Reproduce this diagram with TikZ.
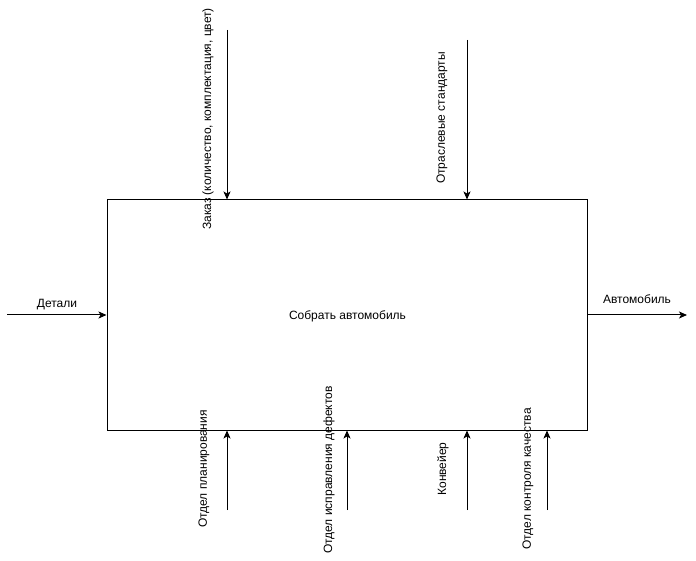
\documentclass[tikz,border=0pt]{standalone}
\usepackage{fontspec}
\setmainfont{Liberation Sans}
\usetikzlibrary{arrows.meta}
\begin{document}
\begin{tikzpicture}[x=1pt,y=-1pt,
  lbl/.style={font=\fontsize{12}{14}\selectfont, inner sep=0pt},
  vlbl/.style={lbl, rotate=90},
  arr/.style={line width=1pt, -{Stealth[length=8pt,width=7pt,inset=2pt]}},
  func/.style={draw, line width=1pt, minimum width=480pt, minimum height=230pt, inner sep=0pt, font=\fontsize{12}{14}\selectfont}]
\useasboundingbox (0,0) rectangle (696,561);
\node[func] (box) at (347,315) {};
\node[lbl] (tMain) at (347.5,316) {Собрать автомобиль};
% inputs / outputs
\coordinate (inL) at (7,315);
\coordinate (outR) at (687,315);
\draw[arr] (inL) -- (box.west);
\draw[arr] (box.east) -- (outR);
\node[lbl] (tDet) at (57,305) {Детали};
\node[lbl] (tAuto) at (637,299) {Автомобиль};
% controls
\coordinate (c1) at (227,30);
\coordinate (c2) at (467,40);
\draw[arr] (c1) -- (c1 |- box.north);
\draw[arr] (c2) -- (c2 |- box.north);
\node[vlbl] (tZak) at (208,119) {Заказ (количество, комплектация, цвет)};
\node[vlbl] (tStd) at (442,118) {Отраслевые стандарты};
% mechanisms
\coordinate (m1) at (227,510);
\coordinate (m2) at (347,510);
\coordinate (m3) at (467,510);
\coordinate (m4) at (547,510);
\draw[arr] (m1) -- (m1 |- box.south);
\draw[arr] (m2) -- (m2 |- box.south);
\draw[arr] (m3) -- (m3 |- box.south);
\draw[arr] (m4) -- (m4 |- box.south);
\node[vlbl] (tPlan) at (204,469) {Отдел планирования};
\node[vlbl] (tDef) at (329,470) {Отдел исправления дефектов};
\node[vlbl] (tKonv) at (443,469) {Конвейер};
\node[vlbl] (tKach) at (528,479) {Отдел контроля качества};
\end{tikzpicture}
\end{document}
